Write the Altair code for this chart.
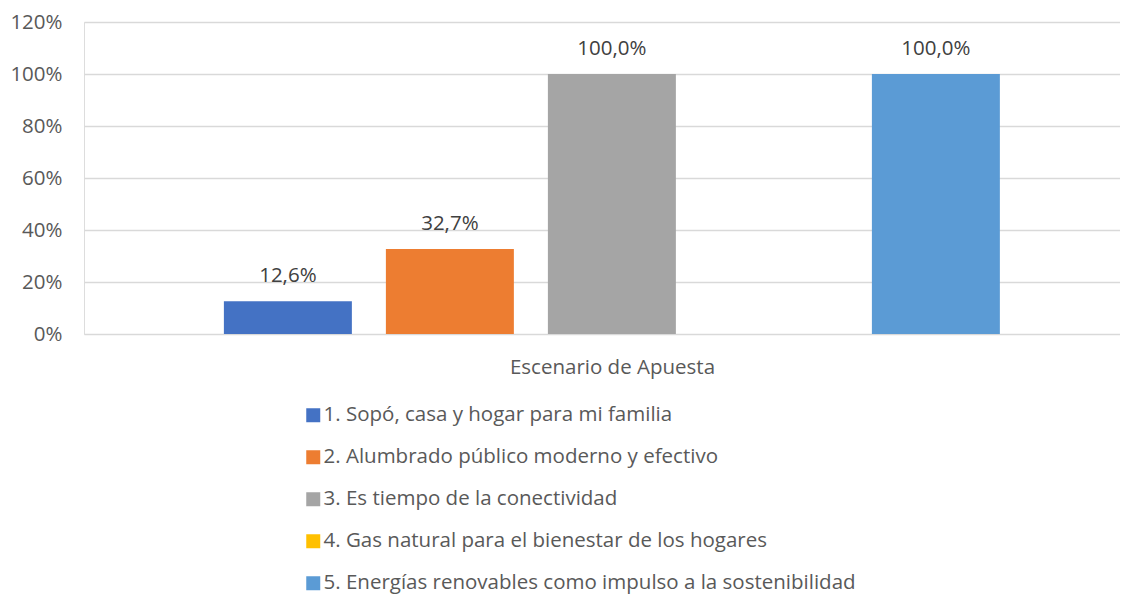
import altair as alt
import pandas as pd

series = [
    "1. Sopó, casa y hogar para mi familia",
    "2. Alumbrado público moderno y efectivo",
    "3. Es tiempo de la conectividad",
    "4. Gas natural para el bienestar de los hogares",
    "5. Energías renovables como impulso a la sostenibilidad",
]
values = [0.126, 0.327, 1.0, 0.0, 1.0]
colors = ["#4472C4", "#ED7D31", "#A5A5A5", "#FFC000", "#5B9BD5"]
category = "Escenario de Apuesta"
y_ticks = [0, 0.2, 0.4, 0.6, 0.8, 1.0, 1.2]

labels = [("%.1f%%" % (v * 100)).replace(".", ",") if v > 0 else "" for v in values]
df = pd.DataFrame({"serie": series, "valor": values, "etiqueta": labels})

FONT = "Open Sans"
FS = 20.5

x_enc = alt.X(
    "serie:N",
    sort=series,
    scale=alt.Scale(paddingInner=0.21, paddingOuter=0.8025, align=0.538),
    axis=alt.Axis(
        title=category, labels=False, ticks=False, domain=False,
        titleFont=FONT, titleFontSize=FS, titleFontWeight="normal", titleColor="#595959",
        titleX=528, titleY=33, titleAlign="center", titleBaseline="middle",
    ),
)
y_enc = alt.Y(
    "valor:Q",
    scale=alt.Scale(domain=[0, 1.2], nice=False),
    axis=alt.Axis(
        title=None, values=y_ticks, format=".0%", ticks=False, domain=False,
        labelFont=FONT, labelFontSize=FS, labelColor="#595959", labelPadding=22,
        gridColor="#D9D9D9", gridWidth=1.3,
    ),
)

bars = alt.Chart(df).mark_bar().encode(
    x=x_enc,
    y=y_enc,
    color=alt.Color(
        "serie:N",
        sort=series,
        scale=alt.Scale(domain=series, range=colors),
        legend=alt.Legend(
            title=None, orient="none", legendX=219, legendY=383, direction="vertical",
            symbolType="square", symbolSize=196, symbolStrokeWidth=0,
            labelFont=FONT, labelFontSize=FS, labelColor="#595959", labelOffset=0,
            rowPadding=21, labelLimit=900,
        ),
    ),
)

text = alt.Chart(df).transform_filter("datum.valor > 0").mark_text(
    font=FONT, fontSize=FS, color="#404040", baseline="alphabetic", align="center", dy=-19
).encode(x=alt.X("serie:N", sort=series), y="valor:Q", text="etiqueta:N")

chart = (bars + text).properties(
    width=1036, height=312,
    padding={"left": 76, "top": 14, "right": 0, "bottom": 265},
    autosize=alt.AutoSizeParams(type="none"),
).configure_view(stroke=None).configure(font=FONT)

chart.save("out.html", embed_options={"renderer": "svg", "actions": False})
